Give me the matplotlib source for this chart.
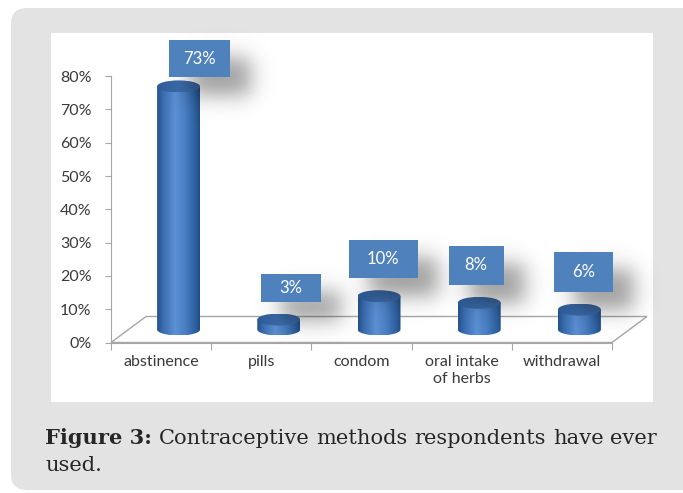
import numpy as np
import matplotlib
matplotlib.use("Agg")
import matplotlib.pyplot as plt
from matplotlib.patches import Ellipse, FancyBboxPatch, Polygon, PathPatch, Rectangle
from matplotlib.path import Path
from matplotlib.colors import LinearSegmentedColormap

# data
methods = ["abstinence", "pills", "condom", "oral intake\nof herbs", "withdrawal"]
share = [73, 3, 10, 8, 6]
value_labels = ["73%", "3%", "10%", "8%", "6%"]
yticks = [0, 10, 20, 30, 40, 50, 60, 70, 80]
ytick_labels = ["%d%%" % t for t in yticks]

# hand placement of the data label boxes (pixels), as in the original
label_nudge_px = [21, 12, 4, -3, 4]
label_w_px = [61, 60, 69, 55, 59]
label_h_px = [37, 28, 38, 39, 40]

W, H = 683, 493
fig = plt.figure(figsize=(W / 100, H / 100), dpi=100)
fig.patch.set_facecolor("white")

# page background, white chart area, caption live in a pixel axes
bg = fig.add_axes([0, 0, 1, 1])
bg.set_xlim(0, W)
bg.set_ylim(H, 0)
bg.axis("off")
bg.add_patch(FancyBboxPatch((11, 8), 720, 482, boxstyle="round,pad=0,rounding_size=16",
                            fc="#e3e3e3", ec="none"))
bg.add_patch(Rectangle((51, 33), 602, 369, fc="white", ec="none"))

# plot axes: front plane of the 3D chart
X0, X1 = 111, 612
Y0, Y80 = 342.5, 76.1
ax = fig.add_axes([X0 / W, (H - Y0) / H, (X1 - X0) / W, (Y0 - Y80) / H])
ax.set_autoscale_on(False)
ax.set_xlim(-0.5, 4.5)
ax.set_ylim(0, 80)
ax.patch.set_alpha(0)
px_x = 5 / (X1 - X0)
px_y = 80 / (Y0 - Y80)

DX, DY = 35 * px_x, 26 * px_y
axis_gray = "#a6a6a6"
ax.add_patch(Polygon([(-0.5, 0), (4.5, 0), (4.5 + DX, DY), (-0.5 + DX, DY)], closed=True,
                     fill=False, ec=axis_gray, lw=1, clip_on=False, zorder=1))

for s in ["top", "right"]:
    ax.spines[s].set_visible(False)
ax.spines["left"].set_color(axis_gray)
ax.spines["bottom"].set_color(axis_gray)

ax.set_yticks(yticks)
ax.set_yticklabels(ytick_labels)
ax.tick_params(axis="y", length=4, color=axis_gray, pad=10, labelsize=11.5,
               labelcolor="#3a3a3a")
for lab in ax.get_yticklabels():
    lab.set_family("Lato")

x = np.arange(len(methods))
ax.set_xticks(np.arange(len(methods) + 1) - 0.5)
ax.set_xticklabels([])
ax.tick_params(axis="x", which="major", length=5, color=axis_gray)
ax.set_xticks(x, minor=True)
ax.set_xticklabels(methods, minor=True, family="Lato", fontsize=11.5, color="#3a3a3a",
                   linespacing=1.3)
ax.tick_params(axis="x", which="minor", length=0, pad=9)

body_cmap = LinearSegmentedColormap.from_list("body", [
    (0.0, "#24518b"), (0.15, "#3b6eb0"), (0.42, "#5b90d4"),
    (0.65, "#4a7fc3"), (0.88, "#2f62a2"), (1.0, "#224d85")])
top_cmap = LinearSegmentedColormap.from_list("top", ["#2e5b96", "#3d6cab", "#3a68a6"])
grad = np.linspace(0, 1, 128).reshape(1, -1)

rx, ry = 21.5 * px_x, 6 * px_y
for i, v in enumerate(share):
    cx = i + DX / 2
    base = DY / 2
    top = base + v
    t = np.linspace(np.pi, 2 * np.pi, 48)
    verts = list(zip(cx + rx * np.cos(t), base + ry * np.sin(t)))
    verts += [(cx + rx, top), (cx - rx, top), (cx - rx, base), (cx - rx, base)]
    codes = [Path.MOVETO] + [Path.LINETO] * (len(verts) - 2) + [Path.CLOSEPOLY]
    body = PathPatch(Path(verts, codes), fc="none", ec="none", clip_on=False)
    ax.add_patch(body)
    im = ax.imshow(grad, cmap=body_cmap, extent=[cx - rx, cx + rx, base - ry, top],
                   aspect="auto", origin="lower", zorder=3, interpolation="bilinear")
    im.set_clip_path(body)
    cap = Ellipse((cx, top), 2 * rx, 2 * ry, fc="none", ec="none", clip_on=False)
    ax.add_patch(cap)
    im2 = ax.imshow(grad, cmap=top_cmap, extent=[cx - rx, cx + rx, top - ry, top + ry],
                    aspect="auto", origin="lower", zorder=4, interpolation="bilinear")
    im2.set_clip_path(cap)


def soft_shadow(x0, x1, y0, y1, sx, sy, peak=0.4):
    xs = np.linspace(x0 - 4 * sx, x1 + 4 * sx, 160)
    ys = np.linspace(y0 - 4 * sy, y1 + 4 * sy, 160)
    fx = 0.5 * (np.tanh((xs - x0) / sx) - np.tanh((xs - x1) / sx))
    fy = 0.5 * (np.tanh((ys - y0) / sy) - np.tanh((ys - y1) / sy))
    rgba = np.zeros((len(ys), len(xs), 4))
    rgba[..., 3] = peak * np.outer(fy, fx)
    im = ax.imshow(rgba, extent=[xs[0], xs[-1], ys[0], ys[-1]], origin="lower",
                   aspect="auto", zorder=5, interpolation="bilinear")
    im.set_clip_on(False)


y_cap = (Y0 - 40) * px_y
for i, v in enumerate(share):
    cx = i + DX / 2 + label_nudge_px[i] * px_x
    bw = label_w_px[i] * px_x
    bh = label_h_px[i] * px_y
    b0 = DY / 2 + v + ry + 12 * px_y
    if b0 + bh > y_cap:
        b0 = y_cap - bh
    soft_shadow(cx - bw / 2 + 20 * px_x, cx + bw / 2 + 20 * px_x,
                b0 - 18 * px_y, b0 + bh - 18 * px_y, 13 * px_x, 13 * px_y)
    ax.add_patch(Rectangle((cx - bw / 2, b0), bw, bh, fc="#4f81bd", ec="none",
                           zorder=6, clip_on=False))
    ax.text(cx, b0 + bh / 2, value_labels[i], ha="center", va="center", color="white",
            family="Lato", fontsize=12, zorder=7, clip_on=False)

# justified caption, font size fitted to the line width
renderer = fig.canvas.get_renderer()
cap_left, cap_right = 45, 657
cap_style = dict(family="DejaVu Serif", color="#262626", va="baseline", ha="left")
line1 = [("Figure 3:", "bold"), ("Contraceptive", "normal"), ("methods", "normal"),
         ("respondents", "normal"), ("have", "normal"), ("ever", "normal")]
texts = [bg.text(0, 444, w, fontweight=wt, size=14, **cap_style) for w, wt in line1]
natural = sum(tx.get_window_extent(renderer).width for tx in texts)
size = 14 * (cap_right - cap_left - 5 * 7) / natural
for tx in texts:
    tx.set_fontsize(size)
widths = [tx.get_window_extent(renderer).width for tx in texts]
gap = (cap_right - cap_left - sum(widths)) / (len(texts) - 1)
xpos = cap_left
for tx, wd in zip(texts, widths):
    tx.set_x(xpos)
    xpos += wd + gap
bg.text(cap_left, 471, "used.", size=size, **cap_style)

fig.savefig("out.png", dpi=100, facecolor="white")
